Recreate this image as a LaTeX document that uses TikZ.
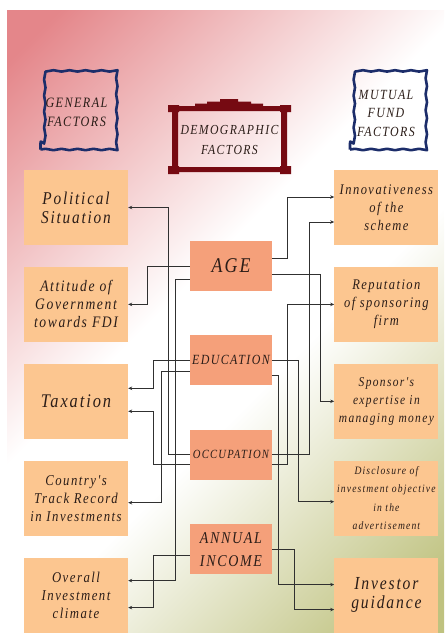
\documentclass[tikz,border=0pt]{standalone}
\usepackage{fontspec}
\setmainfont{Liberation Serif}
\newfontfamily\spaced[LetterSpace=10,FakeStretch=0.85]{Liberation Serif}
\usetikzlibrary{arrows.meta,positioning,decorations.pathmorphing}
\definecolor{pinkbg}{HTML}{E4868A}
\definecolor{olivebg}{HTML}{BFC27F}
\definecolor{peach}{HTML}{FCC690}
\definecolor{salmon}{HTML}{F5A07A}
\definecolor{navy}{HTML}{1C2D6A}
\definecolor{maroon}{HTML}{760A12}
\definecolor{ink}{HTML}{2B1D18}
\definecolor{wire}{HTML}{303030}
\pgfdeclarehorizontalshading{backdrop}{100bp}{color(0bp)=(pinkbg); color(18bp)=(pinkbg); color(45bp)=(white); color(57bp)=(white); color(82bp)=(olivebg); color(100bp)=(olivebg)}

\begin{document}
\begin{tikzpicture}[x=1pt,y=-1pt,
  txt/.style 2 args={font=\spaced\itshape\fontsize{#1}{#2}\selectfont},
  side/.style={fill=peach,minimum width=104pt,minimum height=75pt,inner sep=2pt,align=center,text=ink},
  mid/.style={fill=salmon,minimum width=82pt,minimum height=50pt,inner sep=1pt,align=center,text=ink},
  head/.style={draw=navy,line width=2.6pt,line join=round,decorate,decoration={snake,amplitude=.7pt,segment length=16pt},minimum width=72pt,minimum height=84pt},
  wire/.style={draw=wire,line width=.7pt,-{Stealth[length=4pt,width=3.5pt]}},
  node distance=21.5pt and 62pt]
  \useasboundingbox (0,0) rectangle (446,635);
  \shade[shading=backdrop,shading angle=-45] (7,10) rectangle (444,632);

  % headings
  \node[head] (gen) at (76.5,107.5) {};
  \node[txt={14.3}{19},text=ink,align=center] (gentxt) at ([yshift=-5pt]gen.center) {GENERAL\\FACTORS};
  \node[head] (fund) at (386,107.5) {};
  \node[txt={14}{18.5},text=ink,align=center] (fundtxt) at ([yshift=-5.5pt]fund.center) {MUTUAL\\FUND\\FACTORS};
  \fill[maroon] (168,105) rectangle (179,112) (280,105) rectangle (291,112)
    (172,106) rectangle (287,111) (172,111) rectangle (178,170) (281,111) rectangle (287,170)
    (168,166) rectangle (179,174) (280,166) rectangle (291,174) (172,167) rectangle (287,172);
  \fill[maroon] (195,106) -- (195,103.5) -- (207,103.5) -- (207,101.5) -- (220,101.5) -- (220,99)
    -- (238,99) -- (238,101.5) -- (251,101.5) -- (251,103.5) -- (263,103.5) -- (263,106) -- cycle;
  \node[txt={13.8}{20},text=ink,align=center] (demo) at (229.5,140) {DEMOGRAPHIC\\FACTORS};

  % general factors
  \node[side,txt={18}{19}] (pol) at (76,207.5) {Political\\Situation};
  \node[side,txt={16}{18},below=of pol] (gov) {Attitude of\\Government\\towards FDI};
  \node[side,txt={19.3}{20},below=of gov] (tax) {Taxation};
  \node[side,txt={15}{18},below=of tax] (track) {Country's\\Track Record\\in Investments};
  \node[side,txt={15}{18},below=of track] (climate) {Overall\\Investment\\climate};

  % mutual fund factors
  \node[side,txt={14.7}{18},right=206pt of pol] (innov) {Innovativeness\\of the\\scheme};
  \node[side,txt={14.7}{18},below=of innov] (repute) {Reputation\\of sponsoring\\firm};
  \node[side,txt={13.5}{18},below=of repute] (expert) {Sponsor's\\expertise in\\managing money};
  \node[side,txt={11.3}{18.5},below=of expert] (disclose) {Disclosure of\\investment objective\\in the\\advertisement};
  \node[side,txt={18.4}{19},below=of disclose] (guide) {Investor\\guidance};

  % demographic factors
  \node[mid,txt={21}{22}] (age) at (231,266) {AGE};
  \node[mid,txt={14}{15},below=44pt of age] (edu) {EDUCATION};
  \node[mid,txt={12.5}{15},below=44pt of edu] (occ) {OCCUPATION};
  \node[mid,txt={16.5}{23},below=44pt of occ] (income) {ANNUAL\\INCOME};

  \draw[wire] ([yshift=8pt]age.east) -- ++(15pt,0) |- ([yshift=10.5pt]innov.west);
  \draw[wire] ([yshift=-8pt]age.east) -- ++(48pt,0) |- (expert.west);
  \draw[wire] (age.west) -- ++(-42pt,0) |- (gov.east);
  \draw[wire] ([yshift=-13pt]age.west) -- ++(-14pt,0) |- ([yshift=14.5pt]climate.east);
  \draw[wire] (edu.west) -- ++(-36pt,0) |- ([yshift=13pt]tax.east);
  \draw[wire] ([yshift=-11pt]edu.west) -- ++(-28pt,0) |- ([yshift=-4.5pt]track.east);
  \draw[wire] (edu.east) -- ++(26pt,0) |- ([yshift=-3.5pt]disclose.west);
  \draw[wire] ([yshift=-15pt]edu.east) -- ++(6pt,0) |- ([yshift=10.5pt]guide.west);
  \draw[wire] (occ.west) -- ++(-21pt,0) |- (pol.east);
  \draw[wire] ([yshift=-10pt]occ.west) -- ++(-36pt,0) |- ([yshift=-10pt]tax.east);
  \draw[wire] (occ.east) -- ++(37pt,0) |- ([yshift=-14.5pt]innov.west);
  \draw[wire] ([yshift=-10pt]occ.east) -- ++(15pt,0) |- (repute.west);
  \draw[wire] ([yshift=-6pt]income.west) -- ++(-36pt,0) |- ([yshift=-12.5pt]climate.east);
  \draw[wire] (income.east) -- ++(22pt,0) |- ([yshift=-14.5pt]guide.west);
\end{tikzpicture}
\end{document}
